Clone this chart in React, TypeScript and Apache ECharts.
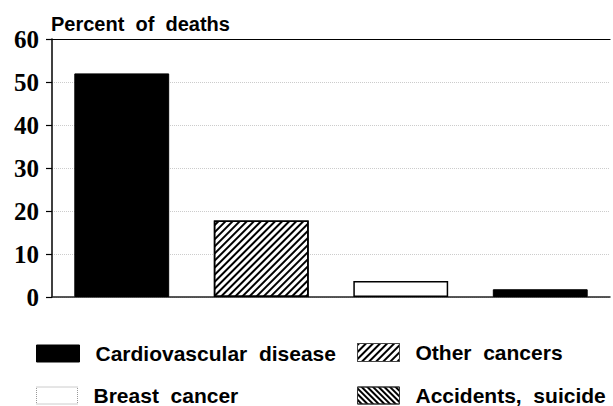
import React, { useEffect, useRef } from "react";
import * as echarts from "echarts";

const categories = ["Cardiovascular disease", "Other cancers", "Breast cancer", "Accidents, suicide"];
const legendLabels = ["Cardiovascular\u00a0\u00a0disease", "Other\u00a0\u00a0cancers", "Breast\u00a0\u00a0cancer", "Accidents,\u00a0\u00a0suicide"];
const values = [52, 17.8, 3.7, 1.8];
const yTicks = { min: 0, max: 60, interval: 10 };
const axisTitle = "Percent\u00a0\u00a0of\u00a0\u00a0deaths";

const hatchFwd = { symbol: "rect", symbolSize: 1, dashArrayX: [1, 0], dashArrayY: [1.3, 2.3], rotation: -Math.PI / 4, color: "#000" };
const hatchBack = { symbol: "rect", symbolSize: 1, dashArrayX: [1, 0], dashArrayY: [1.3, 1.2], rotation: Math.PI / 4, color: "#000" };

const barStyles: any[] = [
  { color: "#000", borderColor: "#000", borderWidth: 1 },
  { color: "#fff", borderColor: "#000", borderWidth: 1.5, decal: hatchFwd },
  { color: "#fff", borderColor: "#000", borderWidth: 1.5 },
  { color: "#000", borderColor: "#000", borderWidth: 1 },
];
const legendStyles: any[] = [
  { color: "#000", borderColor: "#000", borderWidth: 1 },
  { color: "#fff", borderColor: "#444", borderWidth: 1, decal: hatchFwd },
  { color: "#fff", borderColor: "#999", borderWidth: 1, borderType: "dotted" },
  { color: "#fff", borderColor: "#333", borderWidth: 1, decal: hatchBack },
];
const legendPos = [
  { left: 36, top: 343, w: 43, h: 17 },
  { left: 357, top: 342, w: 42, h: 18 },
  { left: 36, top: 385, w: 41, h: 17 },
  { left: 357, top: 385, w: 42, h: 17 },
];

export default function App() {
  const ref = useRef<HTMLDivElement>(null);
  useEffect(() => {
    const chart = echarts.init(ref.current!, null, { renderer: "svg" });
    const textStyle = { fontFamily: "Liberation Sans", fontWeight: "bold" as const, fontSize: 21, color: "#000", padding: [0, 0, 0, 11] };
    chart.setOption({
      animation: false,
      backgroundColor: "#fff",
      aria: { decal: { show: false } },
      grid: { left: 52, right: 3, top: 39, bottom: 109 },
      xAxis: [
        {
          type: "category",
          data: categories,
          axisLine: { show: true, lineStyle: { color: "#222", width: 1.5 } },
          axisTick: { show: false },
          axisLabel: { show: false },
          splitLine: { show: false },
        },
        {
          type: "category",
          position: "top",
          data: categories,
          axisLine: { show: true, lineStyle: { color: "#000", width: 1.2 } },
          axisTick: { show: false },
          axisLabel: { show: false },
        },
      ],
      yAxis: {
        type: "value",
        min: yTicks.min,
        max: yTicks.max,
        interval: yTicks.interval,
        axisLine: { show: true, lineStyle: { color: "#000", width: 1.5 } },
        axisTick: { show: true, length: 6, lineStyle: { color: "#000", width: 1.2 } },
        axisLabel: { margin: 13, fontFamily: "Liberation Serif", fontWeight: "bold", fontSize: 25, color: "#000" },
        splitLine: { show: true, lineStyle: { color: "#ccc", type: "dotted", width: 1 } },
      },
      legend: categories.map((c, i) => ({
        left: legendPos[i].left,
        top: legendPos[i].top,
        padding: 0,
        itemWidth: legendPos[i].w,
        itemHeight: legendPos[i].h,
        icon: "rect",
        selectedMode: false,
        textStyle,
        formatter: () => legendLabels[i],
        data: [{ name: c, itemStyle: legendStyles[i] }],
      })),
      graphic: [
        {
          type: "text",
          x: 51,
          y: 24,
          style: { text: axisTitle, fontFamily: "Liberation Sans", fontWeight: "bold", fontSize: 20, fill: "#000", verticalAlign: "middle" },
        },
      ],
      series: categories.map((c, i) => ({
        name: c,
        type: "bar",
        stack: "all",
        barWidth: "68%",
        itemStyle: barStyles[i],
        data: values.map((v, j) => (j === i ? v : "-")),
      })),
    });
    return () => chart.dispose();
  }, []);
  return <div ref={ref} style={{ width: 613, height: 406, position: "absolute", left: 0, top: 0 }} />;
}
